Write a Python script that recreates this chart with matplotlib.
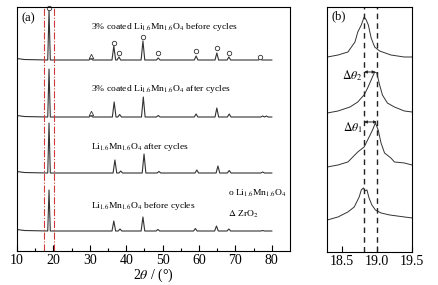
import matplotlib
matplotlib.use("Agg")
import matplotlib.pyplot as plt

plt.rcParams["font.family"] = ["Liberation Serif", "DejaVu Serif"]
plt.rcParams["mathtext.fontset"] = "stix"

# ---- panel (a): XRD patterns, peak tables per trace (2theta, height) ----
labels_a = [
    r"3% coated Li$_{1.6}$Mn$_{1.6}$O$_4$ before cycles",
    r"3% coated Li$_{1.6}$Mn$_{1.6}$O$_4$ after cycles",
    r"Li$_{1.6}$Mn$_{1.6}$O$_4$ after cycles",
    r"Li$_{1.6}$Mn$_{1.6}$O$_4$ before cycles",
]
baselines_a = [191, 134, 78, 20]
label_y_a = [224, 162, 104, 45]

peaks_pos = [
    [18.8, 30.3, 36.6, 38.0, 44.6, 48.8, 59.2, 64.9, 68.2, 76.8],
    [18.8, 30.3, 36.7, 38.2, 44.7, 48.8, 59.2, 64.9, 68.3, 77.5, 78.5],
    [18.8, 36.9, 38.5, 44.9, 49.0, 59.4, 65.2, 68.3, 77.5],
    [18.8, 36.6, 38.3, 44.6, 48.7, 59.0, 64.8, 68.2, 77.5],
]
peaks_h = [
    [50, 1.5, 14, 3, 19, 2, 4, 7, 3, 1],
    [48, 1.5, 15, 2.5, 20, 1.5, 3, 9, 3, 1, 1],
    [50, 13, 2, 19, 1.5, 3, 7, 2.5, 1],
    [41, 10, 2, 14, 1.5, 2.5, 5, 2, 0.5],
]

# markers on top pattern
circ_x = [18.8, 36.6, 38.0, 44.6, 48.8, 59.2, 64.9, 68.2, 76.8]
circ_y = [243, 208, 198, 214, 198, 200, 203, 198, 194]
tri_x = [30.3, 30.3]
tri_y = [195, 138]

# ---- panel (b): zoom on main peak ----
b_x = [
    [18.30, 18.45, 18.59, 18.69, 18.73, 18.78, 18.82, 18.85, 18.88, 18.92, 18.97, 19.04, 19.20, 19.39, 19.50],
    [18.30, 18.45, 18.62, 18.73, 18.78, 18.82, 18.87, 18.92, 18.97, 19.00, 19.04, 19.08, 19.15, 19.25, 19.39, 19.50],
    [18.30, 18.45, 18.59, 18.73, 18.82, 18.87, 18.94, 18.98, 19.02, 19.06, 19.11, 19.20, 19.25, 19.39, 19.50],
    [18.30, 18.45, 18.59, 18.68, 18.75, 18.78, 18.81, 18.83, 18.86, 18.89, 18.93, 18.98, 19.06, 19.18, 19.39, 19.50],
]
b_y = [
    [195, 197, 200, 210, 220, 227, 235, 232, 227, 214, 205, 201, 197, 195, 195],
    [139, 141, 145, 150, 154, 157, 164, 172, 180, 179, 167, 157, 149, 145, 141, 140],
    [85, 87, 90, 100, 105, 112, 122, 129, 122, 109, 99, 94, 90, 89, 87],
    [32, 35, 40, 45, 55, 62, 64, 61, 62, 54, 47, 42, 39, 37, 35, 34],
]
dash_x = [18.82, 19.0]
arrows_b = [(r"$\Delta\theta_2$", 18.82, 18.98, 180, 176), (r"$\Delta\theta_1$", 18.82, 19.0, 130, 124)]


def pattern(pos, h, base):
    xs, ys = [10.0, 12.0], [base + 1.5, base + 0.5]
    for p, hh in sorted(zip(pos, h)):
        w = 0.35 if hh > 30 else 0.5
        xs += [p - w, p, p + w]
        ys += [base, base + hh, base]
    xs.append(80.0)
    ys.append(base)
    return xs, ys


fig = plt.figure(figsize=(4.39, 2.85), dpi=100)
ax = fig.add_axes([0.0387, 0.1193, 0.6219, 0.8561])
axb = fig.add_axes([0.746, 0.116, 0.1925, 0.8594])

line_c = "#333333"
for pos, h, base in zip(peaks_pos, peaks_h, baselines_a):
    xs, ys = pattern(pos, h, base)
    ax.plot(xs, ys, color=line_c, lw=0.8)

for lab, ly in zip(labels_a, label_y_a):
    ax.text(30.3, ly, lab, fontsize=6.8, va="center", ha="left")

ax.plot(circ_x, circ_y, "o", ms=3.2, mfc="white", mec=line_c, mew=0.6, clip_on=False)
ax.plot(tri_x, tri_y, "^", ms=3.2, mfc="white", mec=line_c, mew=0.6)

for xv in [17.4, 20.2]:
    ax.axvline(xv, color="#d03a3a", ls="-.", lw=0.8)

ax.text(68.0, 58, r"o Li$_{1.6}$Mn$_{1.6}$O$_4$", fontsize=6.8, va="center")
ax.text(68.0, 37, r"$\Delta$ ZrO$_2$", fontsize=6.8, va="center")
ax.text(11.3, 233, "(a)", fontsize=9, va="center")

ax.set_xlim(10, 85)
ax.set_ylim(0, 244)
ax.set_yticks([])
ax.set_xticks(range(10, 81, 10))
ax.set_xticks(range(15, 80, 10), minor=True)
ax.tick_params(axis="x", direction="in", length=4, width=0.8, labelsize=10, pad=2)
ax.tick_params(axis="x", which="minor", direction="in", length=2.5, width=0.8)
ax.set_xlabel(r"2$\theta$ / (°)", fontsize=10, labelpad=0)

for xs, ys in zip(b_x, b_y):
    axb.plot(xs, ys, color=line_c, lw=0.7)
for xv in dash_x:
    axb.axvline(xv, color="#222222", ls=(0, (4, 3)), lw=1.0)
for lab, x0, x1, ya, yl in arrows_b:
    axb.annotate("", xy=(x1, ya), xytext=(x0, ya),
                 arrowprops=dict(arrowstyle="<|-|>", color="#222222", lw=0.7,
                                 shrinkA=0, shrinkB=0, mutation_scale=4))
    axb.text(18.79, yl, lab, fontsize=8.5, ha="right", va="center")
axb.text(18.36, 236, "(b)", fontsize=9, va="center")

axb.set_xlim(18.3, 19.5)
axb.set_ylim(0, 245)
axb.set_yticks([])
axb.set_xticks([18.5, 19.0, 19.5])
axb.set_xticklabels(["18.5", "19.0", "19.5"])
axb.tick_params(axis="x", direction="in", length=4, width=0.8, labelsize=10, pad=2)

for a in (ax, axb):
    for s in a.spines.values():
        s.set_linewidth(0.8)

fig.savefig("out.png", dpi=100)
